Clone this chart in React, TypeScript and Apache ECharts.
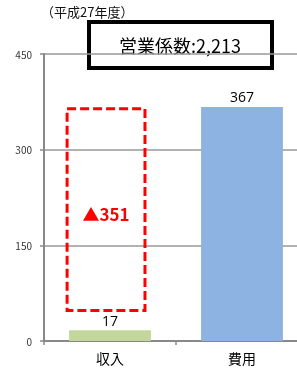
import React, { useEffect, useRef } from "react";
import * as echarts from "echarts";

const categories = ["収入", "費用"];
const values = [17, 367];
const barColors = ["#C3D69B", "#8DB3E2"];
const yTicks = { min: 0, max: 450, interval: 150 };
const periodLabel = "（平成27年度）";
const coefficientLabel = "営業係数:2,213";
const deficitLabel = "▲351";
const deficitBox = [48, 364]; // annotation box range on value axis
const deficitTextValue = 200;

export default function App() {
  const ref = useRef<HTMLDivElement>(null);
  useEffect(() => {
    if (!ref.current) return;
    const chart = echarts.init(ref.current, null, { renderer: "svg" });
    chart.setOption({
      animation: false,
      textStyle: { fontFamily: "'Noto Sans CJK JP', 'Noto Sans', sans-serif" },
      title: {
        text: periodLabel,
        left: 36,
        top: 0,
        textStyle: { fontSize: 13, fontWeight: "normal", color: "#111" },
      },
      graphic: [
        {
          type: "group",
          left: 87,
          top: 20,
          children: [
            {
              type: "rect",
              shape: { x: 0, y: 0, width: 183, height: 46 },
              style: { fill: "#fff", stroke: "#000", lineWidth: 4 },
            },
            {
              type: "text",
              x: 91,
              y: 23,
              style: {
                text: coefficientLabel,
                fill: "#000",
                font: "18px 'Noto Sans CJK JP', sans-serif",
                align: "center",
                verticalAlign: "middle",
              },
            },
          ],
          z: 100,
        },
      ],
      grid: {
        left: 44,
        width: 264,
        top: 54,
        bottom: 28,
        containLabel: false,
        outerBoundsMode: "none",
      },
      xAxis: {
        type: "category",
        data: categories,
        axisLine: { lineStyle: { color: "#888", width: 2 } },
        axisTick: { show: true, length: 4, lineStyle: { color: "#888", width: 1.5 } },
        axisLabel: { color: "#000", fontSize: 14, margin: 10 },
      },
      yAxis: {
        type: "value",
        min: yTicks.min,
        max: yTicks.max,
        interval: yTicks.interval,
        axisLine: { show: true, lineStyle: { color: "#888", width: 2 } },
        axisTick: { show: true, length: 4, lineStyle: { color: "#888", width: 1.5 } },
        axisLabel: { color: "#333", fontSize: 10, margin: 12 },
        splitLine: { lineStyle: { color: "#999", width: 1.5 } },
      },
      series: [
        {
          type: "bar",
          data: values.map((v, i) => ({ value: v, itemStyle: { color: barColors[i] } })),
          barWidth: "62%",
          label: {
            show: true,
            position: "top",
            color: "#000",
            fontSize: 14,
            distance: 3,
            fontFamily: "'Open Sans', sans-serif",
          },
        },
        {
          type: "custom",
          data: [[0, deficitBox[0], deficitBox[1], deficitTextValue]],
          z: 10,
          renderItem: (params: any, api: any) => {
            const cat = api.value(0);
            const bottom = api.coord([cat, api.value(1)]);
            const top = api.coord([cat, api.value(2)]);
            const txt = api.coord([cat, api.value(3)]);
            const bandW = api.size([1, 0])[0];
            const w = bandW * 0.59;
            const cx = bottom[0] - bandW * 0.03;
            return {
              type: "group",
              children: [
                {
                  type: "rect",
                  shape: { x: cx - w / 2, y: top[1], width: w, height: bottom[1] - top[1] },
                  style: {
                    fill: "none",
                    stroke: "#FF0000",
                    lineWidth: 3,
                    lineDash: [9, 4],
                  },
                },
                {
                  type: "text",
                  x: cx,
                  y: txt[1],
                  style: {
                    text: deficitLabel,
                    fill: "#FF0000",
                    font: "bold 17px 'Noto Sans CJK JP', sans-serif",
                    align: "center",
                    verticalAlign: "middle",
                  },
                },
              ],
            };
          },
        },
      ],
    });
    return () => chart.dispose();
  }, []);
  return <div ref={ref} style={{ width: 297, height: 369, position: "fixed", left: 0, top: 0 }} />;
}
